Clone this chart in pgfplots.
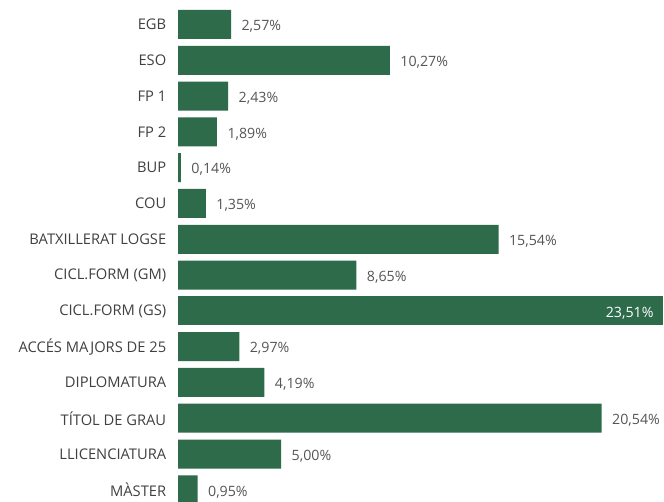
\documentclass[border=0pt]{standalone}
\usepackage{pgfplots}
\pgfplotsset{compat=1.18}
\usepackage{pgfplotstable}
\usepackage{fontspec}
\setmainfont{Open Sans}
\definecolor{barG}{HTML}{2D6B4B}
\definecolor{catG}{HTML}{404040}
\definecolor{valG}{HTML}{555555}

% idx = row from the top, val = share in percent, lbl = printed value
\pgfplotstableread{
idx val lbl
0 2.57 2,57
1 10.27 10,27
2 2.43 2,43
3 1.89 1,89
4 0.14 0,14
5 1.35 1,35
6 15.54 15,54
7 8.65 8,65
9 2.97 2,97
10 4.19 4,19
11 20.54 20,54
12 5.00 5,00
13 0.95 0,95
}\outside
\pgfplotstableread{
idx val lbl
8 23.51 23,51
}\inside

\begin{document}
\begin{tikzpicture}
\begin{axis}[
    at={(178pt,0pt)}, anchor=south west,
    scale only axis,
    width=486pt, height=502pt,
    xbar, bar shift=0pt, bar width=0.81,
    y dir=reverse,
    xmin=0, xmax=23.56,
    ymin=-0.684, ymax=13.34,
    axis line style={draw=none},
    major tick style={draw=none},
    xtick=\empty,
    ytick={0,...,13},
    yticklabels={EGB, ESO, FP 1, FP 2, BUP, COU, BATXILLERAT LOGSE,
        CICL.FORM (GM), CICL.FORM (GS), ACCÉS MAJORS DE 25,
        DIPLOMATURA, TÍTOL DE GRAU, LLICENCIATURA, MÀSTER},
    yticklabel style={font=\fontsize{14.7}{17}\selectfont, text=catG, xshift=-4pt},
    point meta=explicit symbolic,
    nodes near coords={\pgfplotspointmeta\%},
    every node near coord/.append style={font=\fontsize{14.2}{17}\selectfont, yshift=-2pt},
]
\addplot[fill=barG, draw=none,
    every node near coord/.append style={text=valG, anchor=west, xshift=7pt}]
    table[x=val, y=idx, meta=lbl] {\outside};
\addplot[fill=barG, draw=none,
    every node near coord/.append style={text=white, anchor=east, xshift=-6pt}]
    table[x=val, y=idx, meta=lbl] {\inside};
\end{axis}
\pgfresetboundingbox
\useasboundingbox (0,0) rectangle (664pt,502pt);
\end{tikzpicture}
\end{document}
